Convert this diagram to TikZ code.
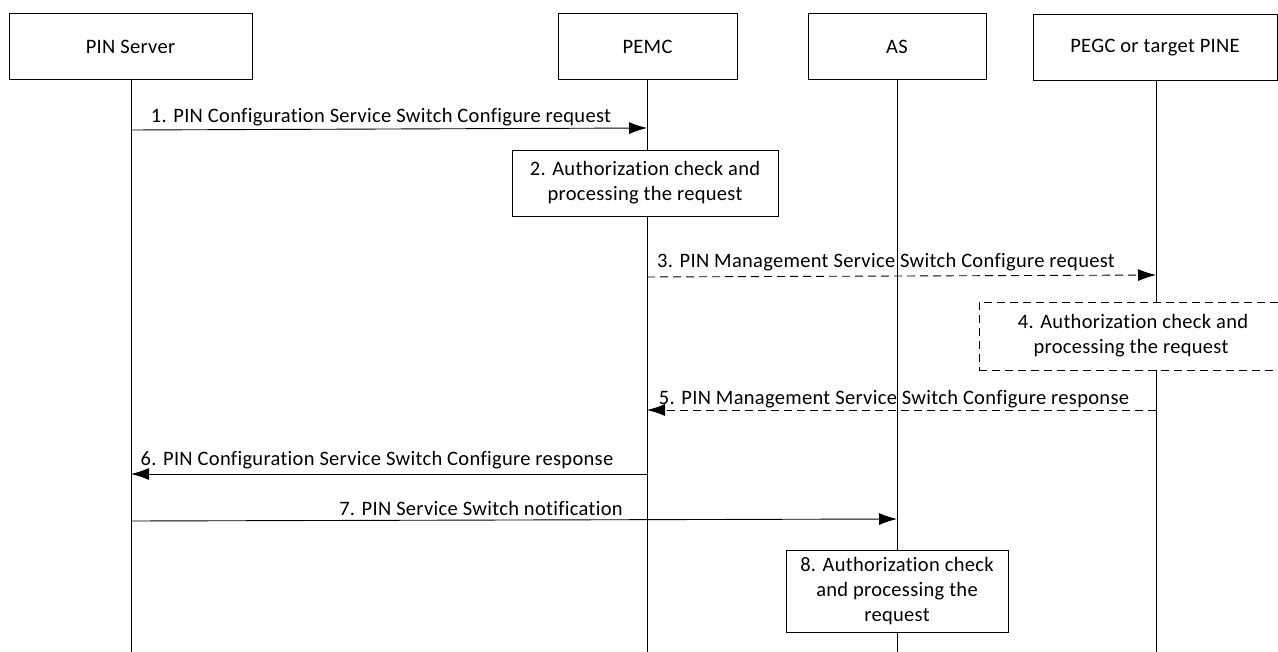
\documentclass[tikz,border=0pt]{standalone}
\usepackage{fontspec}
\setmainfont{Carlito}[Ligatures=NoCommon, LetterSpace=1.5]
\usetikzlibrary{arrows.meta}
\begin{document}
\begin{tikzpicture}[x=1pt,y=-1pt,
  every node/.style={font=\fontsize{20.5}{25}\selectfont},
  ent/.style={draw, line width=0.9pt, minimum height=66pt, inner sep=0pt},
  life/.style={line width=0.9pt},
  msg/.style={line width=0.9pt, -{Latex[length=18pt,width=12pt]}},
  dmsg/.style={msg, dash pattern=on 8pt off 5pt},
  procbox/.style={draw, line width=0.9pt, fill=white, align=center, inner sep=0pt},
  lbl/.style={inner sep=0pt, anchor=base}]
\useasboundingbox (0,0) rectangle (1278,652);
% entities
\node[ent, minimum width=243pt] (ps) at (130.5,46.5) {PIN Server};
\node[ent, minimum width=179pt] (pemc) at (647.5,46.5) {PEMC};
\node[ent, minimum width=178pt] (as) at (897,46.5) {AS};
\node[ent, minimum width=244pt] (pegc) at (1155,47.5) {PEGC or target PINE};
% lifelines
\coordinate (psb) at (131,652);
\coordinate (pemcb) at (647,652);
\coordinate (asb) at (897,652);
\coordinate (pegcb) at (1156,652);
\draw[life] (131,79.5) -- (psb);
\draw[life] (647,79.5) -- (pemcb);
\draw[life] (897,79.5) -- (asb);
\draw[life] (1156,80.5) -- (pegcb);
% message coordinates
\coordinate (m1a) at (131,130); \coordinate (m1b) at (647,128);
\coordinate (m3a) at (647,277); \coordinate (m3b) at (1156,275);
\coordinate (m5a) at (1156,410); \coordinate (m5b) at (647,410);
\coordinate (m6a) at (647,474); \coordinate (m6b) at (131,474);
\coordinate (m7a) at (131,521); \coordinate (m7b) at (897,519);
% messages
\draw[msg] (m1a) -- (m1b);
\node[lbl] (l1) at (381,123) {1. PIN Configuration Service Switch Configure request};
\node[procbox, minimum width=266pt, minimum height=66pt] (p2) at (645,183) {2. Authorization check and\\processing the request};
\draw[dmsg] (m3a) -- (m3b);
\node[lbl] (l3) at (886,268) {3. PIN Management Service Switch Configure request};
\node[procbox, dash pattern=on 8pt off 5pt, minimum width=304pt, minimum height=68pt] (p4) at (1131,336) {\hspace*{4pt}4. Authorization check and\\processing the request};
\draw[dmsg] (m5a) -- (m5b);
\node[lbl] (l5) at (894,405) {5. PIN Management Service Switch Configure response};
\draw[msg] (m6a) -- (m6b);
\node[lbl] (l6) at (377,465) {6. PIN Configuration Service Switch Configure response};
\draw[msg] (m7a) -- (m7b);
\node[lbl] (l7) at (481,515) {7. PIN Service Switch notification};
\node[procbox, minimum width=222pt, minimum height=82pt] (p8) at (897,591) {8. Authorization check\\and processing the\\request};
\end{tikzpicture}
\end{document}
